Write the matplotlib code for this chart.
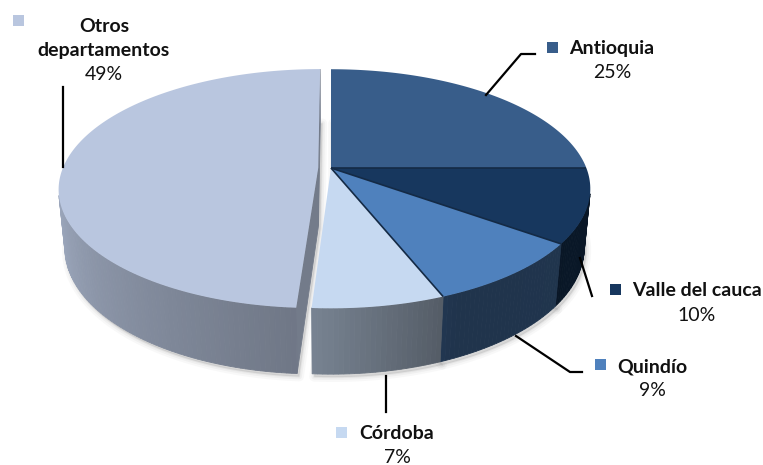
import numpy as np
import matplotlib
matplotlib.use("Agg")
import matplotlib.pyplot as plt
from matplotlib.patches import Polygon, Rectangle
from matplotlib.colors import to_rgb

# ---- data -----------------------------------------------------------------
labels = ["Antioquia", "Valle del cauca", "Quindío", "Córdoba", "Otros departamentos"]
values = [25, 10, 9, 7, 49]
colors = ["#385D8A", "#17375E", "#4F81BD", "#C6D9F1", "#B9C6DF"]
explode = [0, 0, 0, 0, 0.05]

# ---- canvas in pixel units ------------------------------------------------
W, H = 763, 465
fig = plt.figure(figsize=(W / 100, H / 100), dpi=100)
ax = fig.add_axes([0, 0, 1, 1])
ax.set_xlim(0, W)
ax.set_ylim(H, 0)
ax.axis("off")

# ---- simple perspective camera for the 3-D pie ------------------------------
ELEV = np.radians(27)
SE, CE = np.sin(ELEV), np.cos(ELEV)
DIST = 5.13
FOC = 1310
CX, CY = 331, 168
THICK = 0.26
CAM = np.array([0.0, -DIST * CE, DIST * SE])


def proj(x, y, z):
    v = y * SE + z * CE
    w = DIST + y * CE - z * SE
    return CX + FOC * x / w, CY - FOC * v / w, w


def shade_factor(t):
    keys = [60, 90, 155, 183, 230, 270, 300]
    vals = [0.42, 0.42, 0.40, 0.60, 0.75, 0.90, 0.90]
    return np.interp(t, keys, vals)


def scaled(c, s):
    r, g, b = to_rgb(c)
    return (min(r * s, 1), min(g * s, 1), min(b * s, 1))


total = float(sum(values))
cum = np.concatenate([[0], np.cumsum(values)]) / total * 360.0

faces = []      # (depth, xy, color)
tops = []
shadows = []

n = len(values)
for i in range(n):
    a1, a2 = cum[i], cum[i + 1]
    mid = np.radians((a1 + a2) / 2)
    ox, oy = explode[i] * np.sin(mid), explode[i] * np.cos(mid)
    ts = np.linspace(a1, a2, max(3, int(a2 - a1) + 1))
    tr = np.radians(ts)

    # outer wall, cut into narrow strips for shading and visibility
    for k in range(len(ts) - 1):
        t1, t2 = tr[k], tr[k + 1]
        tm = (t1 + t2) / 2
        p = np.array([ox + np.sin(tm), oy + np.cos(tm), -THICK / 2])
        nrm = np.array([np.sin(tm), np.cos(tm), 0])
        if np.dot(nrm, CAM - p) <= 0:
            continue
        pts = [proj(ox + np.sin(t1), oy + np.cos(t1), 0),
               proj(ox + np.sin(t2), oy + np.cos(t2), 0),
               proj(ox + np.sin(t2), oy + np.cos(t2), -THICK),
               proj(ox + np.sin(t1), oy + np.cos(t1), -THICK)]
        depth = np.mean([q[2] for q in pts])
        col = scaled(colors[i], shade_factor(np.degrees(tm)))
        faces.append((depth, [(q[0], q[1]) for q in pts], col))

    # flat cut faces next to an exploded neighbour
    prev_i, next_i = (i - 1) % n, (i + 1) % n
    for ang, sign, nb in ((a1, -1, prev_i), (a2, 1, next_i)):
        if explode[i] == 0 and explode[nb] == 0:
            continue
        ar = np.radians(ang)
        nrm = sign * np.array([np.cos(ar), -np.sin(ar), 0])
        ex, ey = ox + np.sin(ar), oy + np.cos(ar)
        p = np.array([(ox + ex) / 2, (oy + ey) / 2, -THICK / 2])
        if np.dot(nrm, CAM - p) <= 0:
            continue
        pts = [proj(ox, oy, 0), proj(ex, ey, 0), proj(ex, ey, -THICK), proj(ox, oy, -THICK)]
        depth = np.mean([q[2] for q in pts])
        faces.append((depth, [(q[0], q[1]) for q in pts], scaled(colors[i], 0.62)))

    top = [proj(ox, oy, 0)] + [proj(ox + np.sin(t), oy + np.cos(t), 0) for t in tr]
    tops.append(([(q[0], q[1]) for q in top], colors[i]))
    bot = [proj(ox, oy, -THICK)] + [proj(ox + np.sin(t), oy + np.cos(t), -THICK) for t in tr]
    shadows.append([(q[0] + 2, q[1] + 3) for q in bot])

# soft drop shadow below the pie
for sh in shadows:
    for lw, al in ((7, 0.05), (4, 0.07), (1.5, 0.1)):
        ax.add_patch(Polygon(sh, closed=True, facecolor="#808080", edgecolor="#808080",
                             linewidth=lw, alpha=al, joinstyle="round", zorder=1))

faces.sort(key=lambda f: -f[0])
for depth, xy, col in faces:
    ax.add_patch(Polygon(xy, closed=True, facecolor=col, edgecolor=col,
                         linewidth=0.6, zorder=2))

for xy, col in tops:
    ax.add_patch(Polygon(xy, closed=True, facecolor=col, edgecolor="none", zorder=3))

# thin dark seams between the joined slices on the top face
for i in range(1, 4):
    ang = np.radians(cum[i])
    x0, y0, _ = proj(0, 0, 0)
    x1, y1, _ = proj(np.sin(ang), np.cos(ang), 0)
    ax.plot([x0, x1], [y0, y1], color="#142a45", lw=1.2, zorder=4, solid_capstyle="butt")

# ---- leader lines -----------------------------------------------------------
leaders = [
    [(486, 95), (521, 54), (535, 54)],
    [(580, 258), (592, 296)],
    [(516, 336), (570, 372), (582, 372)],
    [(386, 376), (386, 412)],
    [(63, 87), (63, 167)],
]
for pts in leaders:
    xs, ys = zip(*pts)
    ax.plot(xs, ys, color="black", lw=1.6, zorder=5)

# ---- labels with colour keys -----------------------------------------------
FONT = "Lato"
label_layout = [
    # marker box (x, y), name lines with baselines, centre x, percent baseline
    ((547, 42), [("Antioquia", 54)], 612, 78),
    ((610, 284), [("Valle del cauca", 296)], 697, 321),
    ((595, 359), [("Quindío", 372)], 652, 396),
    ((336, 427), [("Córdoba", 439)], 397, 463),
    ((13, 15), [("Otros", 32), ("departamentos", 56)], 104, 80),
]
for i, (mk, lines, xc, pb) in enumerate(label_layout):
    ax.add_patch(Rectangle(mk, 11, 11, facecolor=colors[i], edgecolor="none", zorder=6))
    for txt, base in lines:
        ax.text(xc, base, txt, ha="center", va="baseline", fontsize=14,
                fontweight="bold", family=FONT, color="#111111", zorder=6)
    pct = f"{values[i]}%"
    ax.text(xc, pb, pct, ha="center", va="baseline", fontsize=14,
            family=FONT, color="#111111", zorder=6)

fig.savefig("out.png", dpi=100)
